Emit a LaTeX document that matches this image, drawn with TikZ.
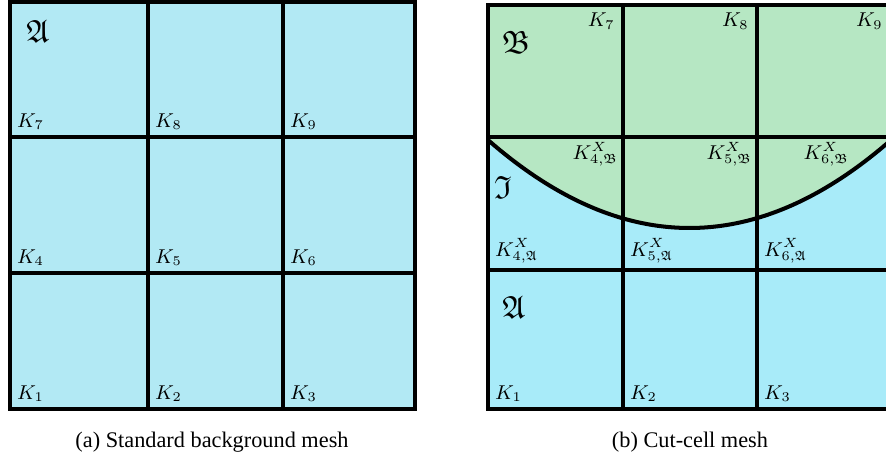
\documentclass[tikz,border=0pt]{standalone}
\usepackage{amsmath}
\usepackage{amssymb}
\usepackage{fontspec}
\newfontfamily\capfont{Liberation Serif}
\usepackage{tikz}
\usetikzlibrary{positioning,calc}
\definecolor{MeshBlue}{RGB}{178,233,244}
\definecolor{CutBlue}{RGB}{168,235,249}
\definecolor{CutGreen}{RGB}{182,231,195}
\tikzset{
  meshline/.style={draw=black, line width=1.4pt},
  interface/.style={draw=black, line width=1.8pt},
  cellname/.style={anchor=south west, inner sep=3pt, font=\small},
  cellnameNE/.style={anchor=north east, inner sep=3.5pt, font=\small},
  domainname/.style={inner sep=0pt, font=\Large},
  subcap/.style={anchor=base, inner sep=0pt, font=\capfont\fontsize{10}{12}\selectfont}
}

\begin{document}
\begin{tikzpicture}[x=0.4484pt, y=-0.4484pt]
  \useasboundingbox (0,0) rectangle (886,455);
  % (a) standard background mesh
  \fill[MeshBlue] (10,2) rectangle (415,409);
  \foreach \x in {148,283} \draw[meshline] (\x,2) -- (\x,409);
  \foreach \y in {137,273} \draw[meshline] (10,\y) -- (415,\y);
  \draw[meshline] (10,2) rectangle (415,409);
  \foreach \k/\x/\y in {1/10/409, 2/148/409, 3/283/409,
                        4/10/273, 5/148/273, 6/283/273,
                        7/10/137, 8/148/137, 9/283/137}
    \node[cellname] (ka\k) at (\x,\y) {$K_{\k}$};
  \node[domainname] (doma) at (38,31) {$\mathfrak{A}$};
  \node[subcap] (capa) at (212,447) {(a) Standard background mesh};

  % (b) cut-cell mesh
  \begin{scope}
    \clip (480,0) rectangle (886,455);
    \coordinate (ifl) at (488,140);
    \coordinate (ifr) at (891,140);
    \fill[CutBlue] (488,5) rectangle (891,409);
    \fill[CutGreen] (488,5) -- (ifl) .. controls (622.3,257.3) and (756.7,257.3) .. (ifr) -- (891,5) -- cycle;
    \foreach \x in {623,757} \draw[meshline] (\x,5) -- (\x,409);
    \foreach \y in {137,270} \draw[meshline] (488,\y) -- (891,\y);
    \draw[meshline] (488,5) rectangle (891,409);
    \draw[interface] (ifl) .. controls (622.3,257.3) and (756.7,257.3) .. (ifr);
  \end{scope}
  \foreach \k/\x in {1/488, 2/623, 3/757}
    \node[cellname] (kb\k) at (\x,409) {$K_{\k}$};
  \foreach \k/\x in {4/488, 5/623, 6/757}
    \node[cellname] (kx\k a) at (\x,270) {$K^X_{\k,\mathfrak{A}}$};
  \foreach \k/\x in {7/623, 8/757, 9/891}
    \node[cellnameNE] (kb\k) at (\x,5) {$K_{\k}$};
  \node[cellnameNE, inner sep=2pt] (kx4b) at (623,137) {$K^X_{4,\mathfrak{B}}$};
  \node[cellnameNE, inner sep=2pt] (kx5b) at (757,137) {$K^X_{5,\mathfrak{B}}$};
  \node[cellnameNE, inner sep=2pt] (kx6b) at (854,137) {$K^X_{6,\mathfrak{B}}$};
  \node[domainname] (domb) at (516,42) {$\mathfrak{B}$};
  \node[domainname] (domi) at (503,187) {$\mathfrak{I}$};
  \node[domainname] (domab) at (514,307) {$\mathfrak{A}$};
  \node[subcap] (capb) at (690,447) {(b) Cut-cell mesh};
\end{tikzpicture}
\end{document}
